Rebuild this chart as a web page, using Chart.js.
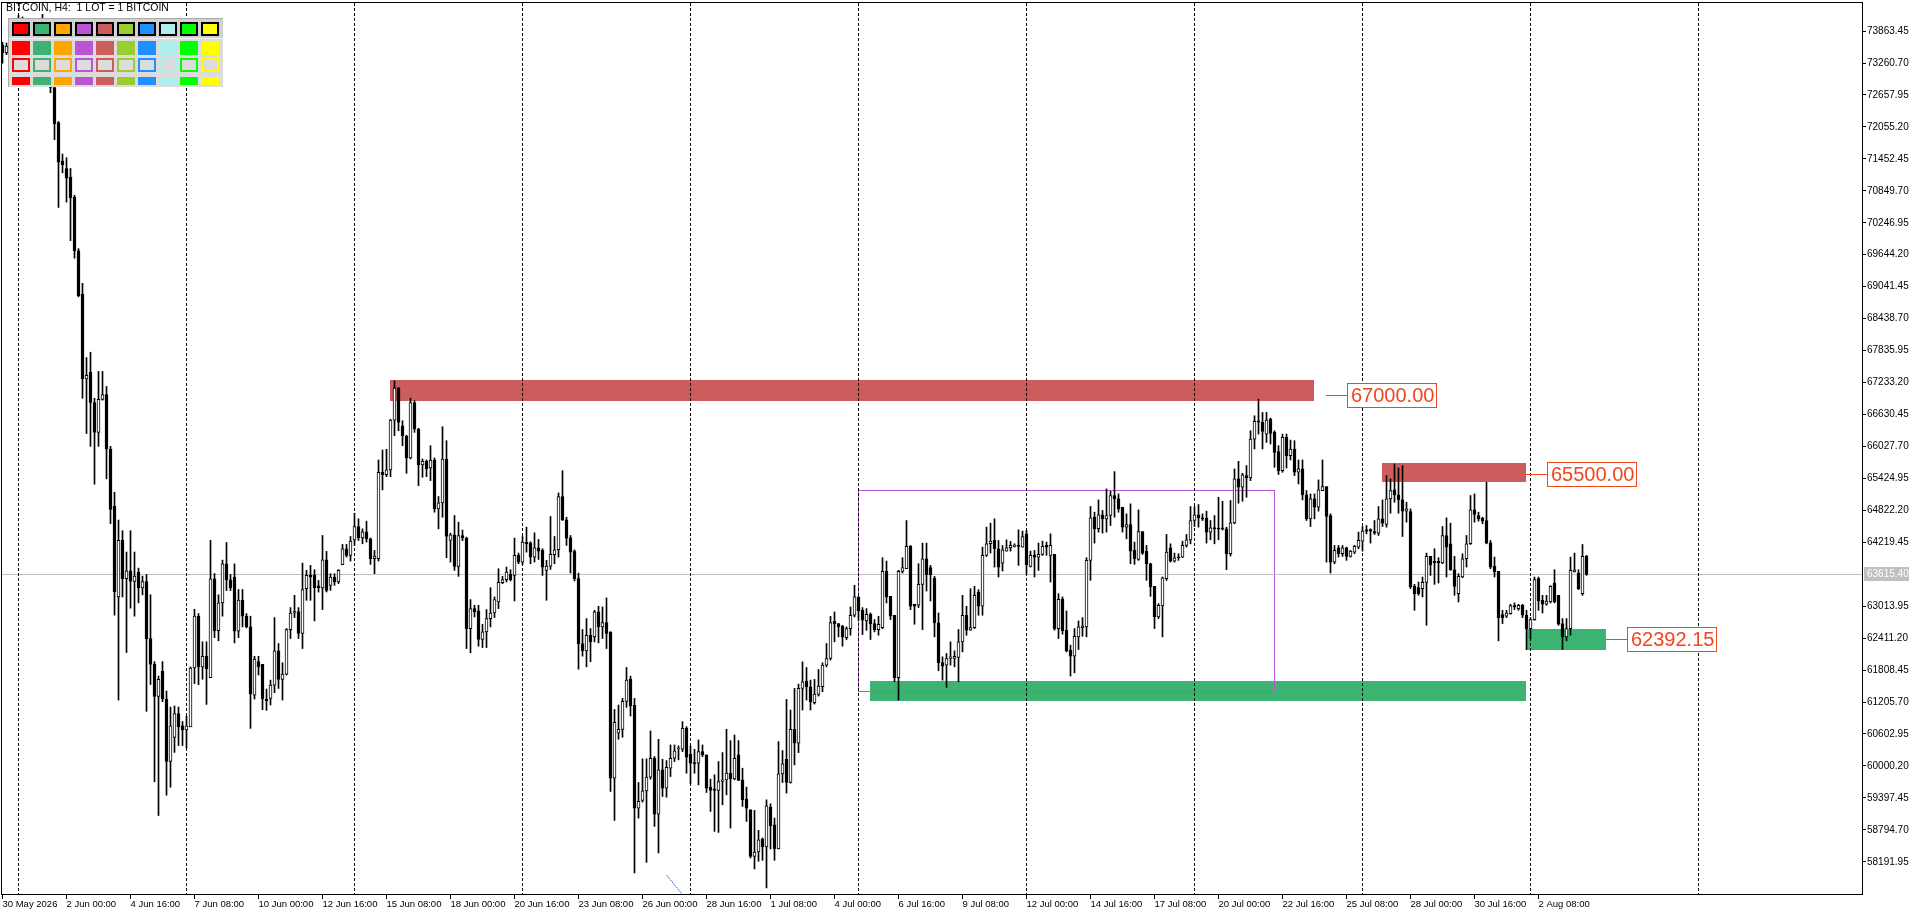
<!DOCTYPE html>
<html>
<head>
<meta charset="utf-8">
<script src="https://cdn.jsdelivr.net/npm/chart.js@4.4.1/dist/chart.umd.min.js"></script>
<style>
html,body{margin:0;padding:0;background:#fff;overflow:hidden}
#wrap{position:relative;width:1920px;height:915px}
canvas{display:block}
#title{position:absolute;left:6px;top:1px;font:10.5px "Liberation Sans",Arial,sans-serif;color:#000;white-space:pre;line-height:12px}
#pal{position:absolute;left:8px;top:18px;width:215px;height:69px;background:#dcdcdc;border-top:1px solid #a8a8a8;border-left:1px solid #a8a8a8;box-sizing:border-box}
#palTop{position:absolute;left:0;top:0;width:214px;height:19px;background:#d2d2d2;border-bottom:1px solid #f2f2f2}
.cell{position:absolute;box-sizing:border-box}
</style>
</head>
<body>
<div id="wrap">
<canvas id="c" width="1920" height="915"></canvas>
<div id="title">BITCOIN, H4:  1 LOT = 1 BITCOIN</div>
<div id="pal"><div id="palTop"></div></div>
</div>
<script>
// ---------- DATA ----------
const open = [
73600,73450,73580,73700,73900,73850,73720,73600,73700,73520,
73660,73820,73350,72800,72139,71413,71272,71110,70728,69720,
68903,67300,67432,66857,66293,66917,67008,65980,64900,63188,
64256,63531,63682,63480,63652,63359,63480,62401,61917,61313,
61787,61262,60083,60536,60990,60758,60678,60738,61847,62825,
61867,62069,61666,63531,62553,63077,63813,63511,63561,62543,
63128,62825,62623,61333,61968,61917,61262,61274,61525,62171,
61632,61732,62573,62886,62912,62498,63345,63595,63595,63400,
63360,63890,63407,63564,63470,63796,64097,63972,64266,64517,
64304,64417,64285,63909,63909,65540,65496,65584,66525,67127,
66418,66224,65810,66857,66356,65678,65753,65622,65772,64850,
64963,65791,64254,64361,63765,64348,64300,62592,62968,62924,
62385,62529,62780,62886,63093,63458,63514,63614,63595,63972,
63846,64223,64210,63940,64116,64066,63689,63771,63984,64078,
65082,64643,64304,64047,63533,62309,62171,62466,62435,62905,
62623,62705,62529,59769,60616,60691,61218,61638,61143,59204,
59349,59530,59788,60145,59091,59926,59581,59957,60145,60320,
60315,60710,60220,60064,60051,60271,60208,59600,59562,59537,
59706,59737,59863,59756,60208,59737,59374,59173,58295,58376,
58627,58470,59223,58891,58433,59850,60126,59687,60691,60428,
61462,61600,61494,61192,61349,61494,61902,62027,62729,62686,
62636,62422,62592,62843,63188,62937,62736,62861,62686,62573,
62610,63671,63200,62843,61663,63671,63721,64141,63050,63031,
63426,63909,63740,63545,62698,61952,61902,62027,62030,62046,
62341,62843,62560,62610,63282,63012,63972,64191,64254,64097,
63827,64053,64116,64141,64150,64128,64379,63765,63972,63940,
63990,64160,63972,63990,62592,63150,62560,62184,62071,62435,
62610,62623,63878,64693,64474,64737,64662,64724,65101,65038,
64881,64505,64555,64066,63896,64423,64047,63815,63388,62811,
63018,63533,64116,63865,63940,63940,64160,64266,64630,64737,
64681,64674,64411,64498,64480,64492,64474,64003,64587,65415,
65258,65478,65433,66167,66512,66481,66261,66544,66293,65929,
65571,66199,65854,65979,65540,65603,65113,64662,65038,64881,
65195,65270,64724,63846,64116,64003,64116,63953,64034,64128,
64241,64455,64461,64423,64392,64662,64555,65038,65207,65113,
65019,64806,64800,63388,63363,63344,63464,63953,63860,63860,
63828,64348,64191,63702,63250,63564,63909,64191,64831,64724,
64674,64630,64210,63765,63671,62855,62824,62874,63024,62968,
63031,62843,62592,62761,63533,63125,63050,63093,63451,63219,
62686,62435,62592,63658,63639,63250,63953];
const high = [
73650,73640,73800,73980,74160,74130,73900,73820,73860,73780,
74180,73900,73450,72850,72160,71544,71474,71272,70768,69760,
69105,67704,67805,66937,67442,67442,67159,66030,65164,64639,
64438,64035,64438,64035,63732,63581,63611,63228,61968,61696,
61968,61413,61111,61131,61111,60839,60940,61867,62956,62875,
62342,62342,64256,63631,63228,63883,64216,63611,63813,63329,
63329,62875,62825,62069,62069,61917,61450,61619,62799,62309,
61946,62592,62987,63219,62987,63827,63690,63784,63702,63500,
64348,64047,63627,63627,63702,64179,64179,64329,64768,64662,
64473,64618,64300,64066,65772,65960,65973,66537,67265,67140,
66512,66240,66939,66889,66370,65791,65772,66042,65810,65082,
66399,66136,64392,64725,64599,64450,64317,63138,63031,63031,
62673,62949,63363,63188,63721,63577,63752,63702,64298,64016,
64329,64505,64230,64398,64273,64097,63878,64706,64329,65151,
65571,64693,64348,64078,63639,62573,62780,62592,62937,63012,
63000,63169,62529,61067,61149,61274,61858,61695,61274,59687,
60133,60133,60660,60177,60503,60126,60101,60396,60396,60377,
60835,60741,60377,60315,60490,60396,60208,59750,59832,60083,
60252,60691,60478,60584,60478,59957,59600,59173,59160,58784,
58640,59361,59286,59016,60459,60290,61255,61055,61463,61544,
61964,61858,61619,61632,61820,61946,62309,62824,62905,62686,
62654,62623,63000,63408,63188,62987,62968,62886,62761,62824,
63928,63865,63200,62843,63690,63928,64630,64160,63050,63815,
64204,64204,63784,63576,62886,62058,62121,62341,62171,62573,
63219,63012,63344,63388,63325,64128,64505,64580,64662,64254,
64160,64266,64235,64191,64454,64430,64442,64053,64066,64204,
64242,64223,64379,63990,63250,63188,62924,62278,62592,62736,
62799,63928,64894,64787,65019,64819,65226,65182,65553,65132,
64881,64756,64944,64223,64831,64423,64160,63827,63388,63062,
63564,64367,64191,64016,64003,64241,64367,64894,64894,64931,
64756,64806,64630,64724,65069,64994,64505,65007,65603,65747,
65521,65666,66324,66606,66920,66669,66669,66563,66324,66042,
66261,66261,66148,66136,65772,65772,65195,65132,65132,65396,
65772,65270,64756,64160,64160,64160,64128,64066,64160,64411,
64517,64536,64474,64630,64894,65019,65477,65414,65697,65622,
65666,64975,64850,63426,63470,63564,64016,63953,64097,63928,
64517,64681,64580,63953,63627,64003,64348,65101,65132,64787,
64693,65352,64254,63940,63671,62937,62937,63050,63075,63050,
63050,62937,62799,63564,63564,63219,63219,63400,63702,63219,
62780,62780,63940,64016,63702,64178,63972];
const low = [
73260,73420,73450,73600,73780,73650,73500,73420,73450,73300,
73560,73300,72700,71816,70536,71191,70637,69911,69579,68850,
66937,66272,66030,65315,66030,66900,65416,64569,62845,61242,
63188,62140,62976,62825,63077,63228,61030,61535,59700,59065,
61212,59448,59599,60255,60385,60385,60335,60738,61555,61534,
61635,61161,61666,62422,62361,62825,63309,63308,62321,62422,
62623,62603,60708,61262,61716,61061,61050,61150,61381,61462,
61243,61713,62404,62799,62404,62215,63125,63125,62736,63280,
62949,63282,63313,63407,63439,63796,63940,63865,64160,64254,
64191,64223,63802,63627,63865,65208,65458,65458,66230,66324,
66042,65521,65791,66293,65289,65446,65458,65383,64787,64474,
64693,63928,63846,63690,63577,64250,62215,62134,62811,62259,
62234,62234,62623,62799,62968,63439,63470,63489,63112,63815,
63796,64034,63815,63846,63896,63595,63125,63708,63815,63940,
64630,64160,63639,63489,61826,62071,61870,61964,62341,62322,
62404,62215,59518,58972,60503,60541,61105,60942,57981,59016,
59317,58182,59750,58859,58357,59424,59411,59800,60082,60114,
60271,59863,59662,59863,59643,60177,59499,59142,58765,58746,
59267,59455,58828,59737,59725,59236,58953,58264,58057,58201,
58220,57699,58433,58220,58433,59687,59487,59675,60020,60252,
61055,61243,61055,61168,61318,61400,61870,61996,62341,62435,
62259,62385,62466,62811,62748,62479,62560,62385,62529,62466,
62592,63075,62761,61588,61243,63639,63721,62949,62673,62987,
62573,63300,63112,62435,61795,61619,61481,61902,61870,61588,
62152,62466,62560,62592,62843,62843,63953,64016,63752,63564,
63677,64053,64053,64128,63784,64128,63614,63752,63564,63689,
63972,63972,63470,62560,62403,62485,62150,61695,61757,62196,
62447,62435,63501,64204,64411,64392,64411,64536,64693,64787,
64411,64285,63815,63802,63878,63990,63501,63200,62592,62780,
62435,63501,63846,63846,63878,63928,64128,64191,64517,64505,
64630,64204,64266,64191,64266,64450,63702,63959,64568,64957,
64994,65069,65383,65979,66261,65979,66105,66073,65634,65496,
65540,65621,65772,65477,65320,65019,64630,64517,64662,64806,
65195,63846,63639,63815,63940,63953,63878,63940,64003,64097,
64053,64379,64204,64367,64348,64517,64505,64768,64975,64768,
64329,64599,63344,62937,63219,63188,62654,63595,63426,63451,
63815,63564,63690,63219,63093,63551,63752,64178,64599,64618,
64568,64191,63721,63564,62360,62686,62799,62861,62949,62937,
62799,62196,62403,62748,62937,62886,63031,63075,63075,62654,
62196,62360,62466,63658,63326,63219,63595];
const close = [
73450,73580,73700,73900,73850,73720,73600,73700,73520,73660,
73820,73350,72800,72119,71393,71343,71090,70718,69720,68873,
67300,67371,66857,66293,66917,67008,65980,64841,63289,64256,
63531,63682,63480,63581,63359,63480,62401,61917,61313,61636,
61262,60083,60758,60990,60738,60678,60758,61847,62825,61867,
62069,61837,63531,62553,63077,63813,63511,63359,62543,63128,
62825,62623,61363,62018,61867,61262,61230,61525,62171,61632,
61732,62573,62886,62912,62498,63326,63595,63564,63363,63360,
63890,63313,63564,63470,63690,64097,63972,64241,64517,64304,
64417,64285,63909,63959,65540,65496,65584,66525,67127,66481,
66224,65810,66857,66356,65678,65753,65603,65772,64850,64963,
65791,64329,64361,63765,64348,64300,62592,62968,62905,62385,
62529,62780,62886,63137,63464,63514,63658,63514,63972,63846,
64223,64191,63940,64116,64053,63752,63771,63991,64078,65082,
64643,64298,64035,63533,62309,62171,62466,62341,62905,62623,
62705,62498,59769,60823,60691,61218,61619,61130,59204,59330,
59530,59788,60145,59091,59926,59581,59976,60145,60283,60330,
60710,60164,60051,60038,60271,60208,59581,59537,59537,59706,
59737,59863,59756,60145,59725,59361,59204,58295,58376,58608,
58470,59248,58872,58433,59850,60039,59687,60691,60428,61462,
61588,61494,61211,61356,61506,61902,62027,62705,62686,62623,
62435,62592,62843,63188,62924,62748,62861,62686,62573,62673,
63671,63188,62824,61663,63671,63740,64141,63012,63012,63426,
63909,63608,63608,62698,61946,61883,62027,62058,62070,62341,
62843,62560,62610,63219,63012,63972,64191,64242,64097,63752,
64078,64116,64160,64150,64141,64329,63796,63972,63940,63990,
64141,64128,64160,62592,63144,62552,62171,62071,62447,62623,
62641,63878,64681,64474,64737,64662,64724,65101,65038,64850,
64505,64555,64053,63909,64423,64016,63815,63376,62811,63031,
63551,64034,63865,63928,63928,64160,64266,64630,64737,64681,
64662,64411,64492,64474,64467,64467,64003,64587,65415,65258,
65490,65433,66167,66500,66487,66312,66525,66274,65916,65571,
66199,65854,65979,65540,65603,65113,64662,65038,64881,65207,
65270,64706,63846,64066,64003,64116,63953,64053,64141,64254,
64430,64430,64430,64392,64662,64580,65038,65195,65113,65019,
64806,64850,63376,63250,63250,63464,63953,63796,63828,63828,
64348,64128,63702,63388,63577,63909,64191,64831,64743,64662,
64618,64204,63752,63658,62799,62799,62886,63024,63000,63031,
62843,62592,62761,63514,63112,63050,63112,63388,63093,62673,
62435,62592,63689,63702,63344,63953,63615.40];

// x axis tick labels (bar index -> text)
const xTickBars = [0,16,32,48,64,80,96,112,128,144,160,176,192,208,224,240,256,272,288,304,320,336,352,368,384];
const xTickLabels = ["30 May 2026","2 Jun 00:00","4 Jun 16:00","7 Jun 08:00","10 Jun 00:00","12 Jun 16:00","15 Jun 08:00","18 Jun 00:00","20 Jun 16:00","23 Jun 08:00","26 Jun 00:00","28 Jun 16:00","1 Jul 08:00","4 Jul 00:00","6 Jul 16:00","9 Jul 08:00","12 Jul 00:00","14 Jul 16:00","17 Jul 08:00","20 Jul 00:00","22 Jul 16:00","25 Jul 08:00","28 Jul 00:00","30 Jul 16:00","2 Aug 08:00"];
const weekBars = [4,46,88,130,172,214,256,298,340,382,424];
const yTickValues = [73863.45,73260.70,72657.95,72055.20,71452.45,70849.70,70246.95,69644.20,69041.45,68438.70,67835.95,67233.20,66630.45,66027.70,65424.95,64822.20,64219.45,63013.95,62411.20,61808.45,61205.70,60602.95,60000.20,59397.45,58794.70,58191.95];
const bidPrice = 63615.40;

// rectangles
const zoneFrom  = [97, 345, 217, 381];
const zoneTo    = [328, 381, 381, 401];
const zoneHigh  = [67283, 65722, 61600, 62592];
const zoneLow   = [66889, 65352, 61230, 62196];
const zoneColor = ['#CD5C5C','#CD5C5C','#3CB371','#3CB371'];
const boxBars   = [214, 318];
const boxPrices = [65207, 61406];
// price labels
const tagBars   = [331, 381, 401];
const tagPrices = [67000.00, 65500.00, 62392.15];
// trend line fragment
const trendBars   = [166, 171];
const trendPrices = [57942, 57480];
// palette colours
const paletteColors = ['#FF0000','#3CB371','#FFA500','#BA55D3','#CD5C5C','#9ACD32','#1E90FF','#AFEEEE','#00FF00','#FFFF00'];

// ---------- PALETTE ----------
(function(){
  const pal = document.getElementById('pal');
  paletteColors.forEach((col,k)=>{
    const lx = 3 + 21*k;
    const mk = (top,h,css)=>{const d=document.createElement('div');d.className='cell';d.style.left=lx+'px';d.style.top=top+'px';d.style.width='18px';d.style.height=h+'px';d.style.cssText+=css;pal.appendChild(d);};
    mk(3,14,'background:'+col+';border:2px solid #000;');
    mk(22,14,'background:'+col+';');
    mk(39,14,'background:#dcdcdc;border:2px solid '+col+';');
    mk(58,8,'background:'+col+';');
  });
})();

// ---------- CHART ----------
const labelMap = new Map(xTickBars.map((b,i)=>[b,xTickLabels[i]]));
const weekSet = new Set(weekBars);
const xTicksAll = Array.from(new Set([...xTickBars,...weekBars])).sort((a,b)=>a-b);
const Y_TOP = 74393.6, Y_BOT = 57583.9;
const FONT = '"Liberation Sans", Arial, sans-serif';
Chart.defaults.font.family = FONT;

const wicks = open.map((o,i)=>({x:i, y:[low[i], high[i]]}));
const bodies = open.map((o,i)=>({x:i, y:[o, close[i]]}));
const trend = trendBars.map((b,i)=>({x:b, y:trendPrices[i]}));

const annot = {
  id:'annot',
  beforeDraw(chart){
    const {ctx, chartArea:a, scales:{x,y}} = chart;
    ctx.save();
    ctx.beginPath(); ctx.rect(a.left,a.top,a.right-a.left,a.bottom-a.top); ctx.clip();
    for(let k=0;k<zoneFrom.length;k++){
      const x1=Math.floor(x.getPixelForValue(zoneFrom[k])), x2=Math.floor(x.getPixelForValue(zoneTo[k]));
      const y1=Math.round(y.getPixelForValue(zoneHigh[k])), y2=Math.round(y.getPixelForValue(zoneLow[k]));
      ctx.fillStyle=zoneColor[k]; ctx.fillRect(x1,y1,x2-x1,y2-y1);
    }
    const bx1=Math.floor(x.getPixelForValue(boxBars[0]))+0.5, bx2=Math.floor(x.getPixelForValue(boxBars[1]))+0.5;
    const by1=Math.round(y.getPixelForValue(boxPrices[0]))+0.5, by2=Math.round(y.getPixelForValue(boxPrices[1]))+0.5;
    ctx.strokeStyle='#BA55D3'; ctx.lineWidth=1; ctx.strokeRect(bx1,by1,bx2-bx1,by2-by1);
    const yb=Math.round(y.getPixelForValue(bidPrice))+0.5;
    ctx.strokeStyle='#C0C0C0'; ctx.beginPath(); ctx.moveTo(a.left,yb); ctx.lineTo(a.right,yb); ctx.stroke();
    ctx.restore();
  },
  afterDatasetsDraw(chart){
    const {ctx, scales:{x,y}} = chart;
    ctx.save();
    ctx.font='20px '+FONT; ctx.textBaseline='middle';
    const col='#F0461E';
    for(let k=0;k<tagBars.length;k++){
      const xa=Math.floor(x.getPixelForValue(tagBars[k]));
      const yc=Math.round(y.getPixelForValue(tagPrices[k]))+0.5;
      const txt=tagPrices[k].toFixed(2);
      const w=Math.round(ctx.measureText(txt).width)+6;
      ctx.strokeStyle=col; ctx.lineWidth=1;
      ctx.beginPath(); ctx.moveTo(xa,yc); ctx.lineTo(xa+21,yc); ctx.stroke();
      ctx.fillStyle='#fff'; ctx.fillRect(xa+21,yc-12,w,24);
      ctx.strokeRect(xa+21.5,yc-12,w,24);
      ctx.fillStyle=col; ctx.fillText(txt,xa+25,yc+1);
    }
    ctx.restore();
  },
  afterDraw(chart){
    const {ctx, chartArea:a, scales:{y}} = chart;
    ctx.save();
    ctx.strokeStyle='#000'; ctx.lineWidth=1;
    ctx.strokeRect(a.left-0.5,a.top-0.5,a.right-a.left+1,a.bottom-a.top+1);
    const yb=Math.round(y.getPixelForValue(bidPrice));
    ctx.fillStyle='#C0C0C0'; ctx.fillRect(a.right+2,yb-7,45,14);
    ctx.fillStyle='#fff'; ctx.font='10px '+FONT; ctx.textBaseline='middle';
    ctx.fillText(bidPrice.toFixed(2),a.right+5,yb+0.5);
    ctx.restore();
  }
};

new Chart(document.getElementById('c'), {
  type:'bar',
  data:{datasets:[
    {type:'bar', data:wicks, backgroundColor:'#000', borderWidth:0, barThickness:1, grouped:false, order:2, minBarLength:1},
    {type:'bar', data:bodies, backgroundColor:c=>(close[c.dataIndex]>=open[c.dataIndex]?'#fff':'#000'), borderColor:'#000', borderWidth:1, borderSkipped:false, barThickness:3, grouped:false, order:1, minBarLength:1},
    {type:'line', data:trend, borderColor:'#2F5FE0', borderWidth:1, borderDash:[2,1], pointRadius:0, order:0, fill:false, tension:0}
  ]},
  options:{
    responsive:false, animation:false, events:[],
    layout:{padding:{left:2, top:3, right:0, bottom:0}},
    plugins:{legend:{display:false}, tooltip:{enabled:false}},
    scales:{
      x:{type:'linear', position:'bottom', min:-0.125, max:464.875, offset:false, bounds:'data',
        afterBuildTicks:s=>{s.ticks=xTicksAll.map(v=>({value:v}));},
        afterFit:s=>{s.height=21; s.paddingLeft=0; s.paddingRight=0;},
        grid:{offset:false, lineWidth:1, color:c=>(c.tick && weekSet.has(c.tick.value))?'#000':'rgba(0,0,0,0)', drawTicks:true, tickLength:5, tickColor:c=>(c.tick && labelMap.has(c.tick.value))?'#000':'rgba(0,0,0,0)'},
        border:{display:false, dash:[3,2]},
        ticks:{autoSkip:false, maxRotation:0, minRotation:0, align:'start', padding:0, color:'#000', font:{size:9.5}, callback:v=>labelMap.has(v)?labelMap.get(v):''}
      },
      y:{type:'linear', position:'right', min:Y_BOT, max:Y_TOP, bounds:'data', beginAtZero:false,
        afterBuildTicks:s=>{s.ticks=yTickValues.map(v=>({value:v}));},
        afterFit:s=>{s.width=58; s.paddingTop=0; s.paddingBottom=0;},
        grid:{drawOnChartArea:false, drawTicks:true, tickLength:4, tickColor:'#000', color:'#000'},
        border:{display:false},
        ticks:{autoSkip:false, padding:1, color:'#000', font:{size:10}, callback:v=>v.toFixed(2)}
      }
    }
  },
  plugins:[annot]
});
</script>
</body>
</html>
